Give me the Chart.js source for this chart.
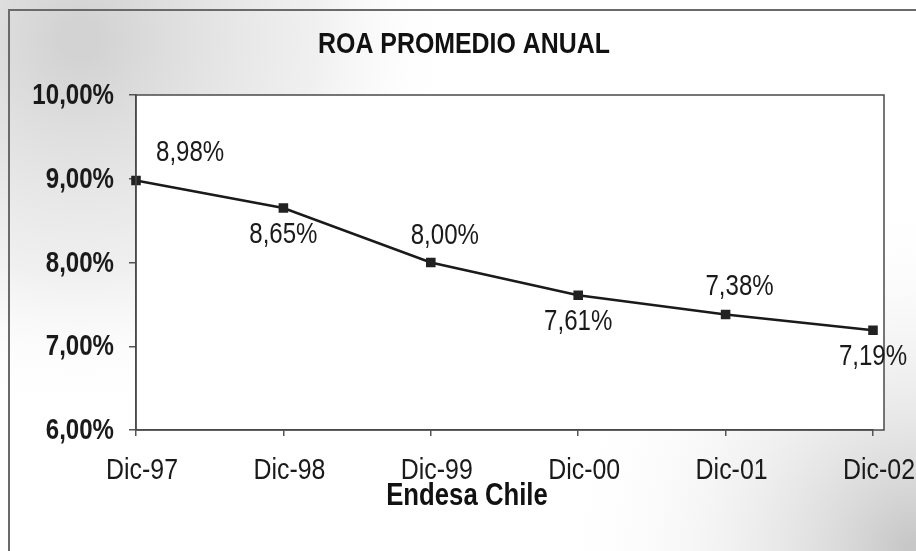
<!DOCTYPE html>
<html>
<head>
<meta charset="utf-8">
<script src="https://cdn.jsdelivr.net/npm/chart.js@4/dist/chart.umd.min.js"></script>
<style>
  html, body { margin: 0; padding: 0; background: #fff; }
  #wrap { width: 916px; height: 551px; }
</style>
</head>
<body>
<div id="wrap"><canvas id="c" width="916" height="551"></canvas></div>
<script>
const categories = ['Dic-97', 'Dic-98', 'Dic-99', 'Dic-00', 'Dic-01', 'Dic-02'];
const roaValues = [8.98, 8.65, 8.00, 7.61, 7.38, 7.19];
const yTicks = [6, 7, 8, 9, 10];
const chartTitle = 'ROA PROMEDIO ANUAL';
const xAxisTitle = 'Endesa Chile';

const FONT = "'Liberation Sans Narrow', 'Liberation Sans', Arial, sans-serif";
const SX = 0.83; // horizontal condensing to mimic Arial Narrow
const fmt = v => v.toFixed(2).replace('.', ',') + '%';

function narrowText(ctx, txt, x, y, font, align, color) {
  ctx.save();
  ctx.translate(x, y);
  ctx.scale(SX, 1);
  ctx.font = font;
  ctx.fillStyle = color || '#1a1a1a';
  ctx.textAlign = align;
  ctx.textBaseline = 'middle';
  ctx.fillText(txt, 0, 0);
  const w = ctx.measureText(txt).width * SX;
  ctx.restore();
  return w;
}
function narrowWidth(ctx, txt, font) {
  ctx.save();
  ctx.font = font;
  const w = ctx.measureText(txt).width * SX;
  ctx.restore();
  return w;
}

const backdrop = {
  id: 'backdrop',
  beforeDraw(chart) {
    const ctx = chart.ctx, a = chart.chartArea;
    const W = chart.width, H = chart.height;
    ctx.save();
    ctx.fillStyle = '#ffffff';
    ctx.fillRect(0, 0, W, H);
    let g = ctx.createRadialGradient(80, 40, 20, 80, 40, 380);
    g.addColorStop(0, 'rgba(200,200,200,0.8)');
    g.addColorStop(0.6, 'rgba(225,225,225,0.5)');
    g.addColorStop(1, 'rgba(255,255,255,0)');
    ctx.fillStyle = g;
    ctx.fillRect(0, 0, W, H);
    g = ctx.createRadialGradient(W, H, 10, W, H, 360);
    g.addColorStop(0, 'rgba(185,185,185,0.8)');
    g.addColorStop(1, 'rgba(255,255,255,0)');
    ctx.fillStyle = g;
    ctx.fillRect(0, 0, W, H);
    ctx.strokeStyle = '#6a6a6a';
    ctx.lineWidth = 2;
    ctx.strokeRect(9, 10, W + 20, H + 20);
    ctx.fillStyle = '#ffffff';
    ctx.fillRect(a.left, a.top, a.right + 11 - a.left, a.bottom - a.top);
    ctx.restore();
  },
  afterDatasetsDraw(chart) {
    const ctx = chart.ctx, a = chart.chartArea;
    const xs = chart.scales.x, ys = chart.scales.y;
    ctx.save();
    ctx.strokeStyle = '#4a4a4a';
    ctx.lineWidth = 1.5;
    ctx.strokeRect(a.left, a.top, a.right + 11 - a.left, a.bottom - a.top);
    ctx.restore();

    narrowText(ctx, chartTitle, 464, 45, 'bold 30px ' + FONT, 'center', '#111');
    narrowText(ctx, xAxisTitle, 467, 496, 'bold 31px ' + FONT, 'center', '#111');

    yTicks.forEach(v => {
      narrowText(ctx, fmt(v), 114, ys.getPixelForValue(v) + 1, 'bold 29px ' + FONT, 'right', '#1a1a1a');
    });
    categories.forEach((c, i) => {
      narrowText(ctx, c, xs.getPixelForValue(i) + 6, 471, '30px ' + FONT, 'center', '#1a1a1a');
    });

    const meta = chart.getDatasetMeta(0);
    const lf = '29px ' + FONT;
    meta.data.forEach((pt, i) => {
      const txt = fmt(roaValues[i]);
      const w = narrowWidth(ctx, txt, lf);
      let x, y;
      if (i % 2 === 0) {
        x = Math.max(pt.x + 14, a.left + 20 + w / 2);
        y = pt.y - 27;
      } else {
        x = pt.x;
        y = pt.y + 27;
      }
      narrowText(ctx, txt, x, y, lf, 'center', '#1a1a1a');
    });
  }
};

new Chart(document.getElementById('c'), {
  type: 'line',
  data: {
    labels: categories,
    datasets: [{
      data: roaValues,
      borderColor: '#1a1a1a',
      borderWidth: 2.5,
      pointStyle: 'rect',
      pointRadius: 5,
      pointBackgroundColor: '#222',
      pointBorderColor: '#222',
      tension: 0,
      fill: false
    }]
  },
  options: {
    responsive: false,
    animation: false,
    layout: { padding: { top: 95, right: 43, bottom: 0, left: 0 } },
    plugins: {
      legend: { display: false },
      tooltip: { enabled: false },
      title: { display: false }
    },
    scales: {
      x: {
        offset: false,
        grid: { display: true, drawOnChartArea: false, drawTicks: true, tickLength: 6, color: '#555', lineWidth: 1.5 },
        border: { display: true, color: '#4a4a4a', width: 1.5 },
        ticks: { display: false },
        afterFit(s) { s.height = 121; }
      },
      y: {
        min: 6, max: 10,
        afterBuildTicks(s) { s.ticks = yTicks.map(v => ({ value: v })); },
        grid: { display: true, drawOnChartArea: false, drawTicks: true, tickLength: 7, color: '#555', lineWidth: 1.5 },
        border: { display: true, color: '#4a4a4a', width: 1.5 },
        ticks: { display: false },
        afterFit(s) { s.width = 136; }
      }
    }
  },
  plugins: [backdrop]
});
</script>
</body>
</html>
